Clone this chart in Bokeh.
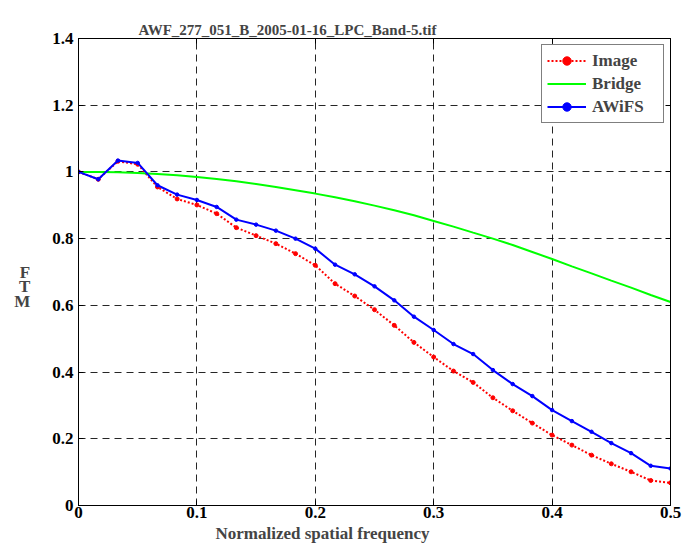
from bokeh.plotting import figure
from bokeh.models import (FixedTicker, LinearAxis, Legend, LegendItem, Range1d, Title)
from bokeh.embed import file_html
from bokeh.resources import INLINE

# ---- data ----
freq = [0.0, 0.0167, 0.0333, 0.05, 0.0667, 0.0833, 0.1, 0.1167, 0.1333, 0.15,
        0.1667, 0.1833, 0.2, 0.2167, 0.2333, 0.25, 0.2667, 0.2833, 0.3, 0.3167,
        0.3333, 0.35, 0.3667, 0.3833, 0.4, 0.4167, 0.4333, 0.45, 0.4667, 0.4833, 0.5]

image_mtf = [1.000, 0.978, 1.032, 1.023, 0.955, 0.919, 0.901, 0.875, 0.833, 0.809,
             0.785, 0.755, 0.720, 0.665, 0.628, 0.587, 0.540, 0.489, 0.445, 0.403,
             0.369, 0.323, 0.284, 0.247, 0.211, 0.181, 0.151, 0.125, 0.101, 0.075, 0.068]

bridge_mtf = [1.000, 1.000, 0.999, 0.997, 0.994, 0.990, 0.985, 0.979, 0.972, 0.964,
              0.955, 0.945, 0.935, 0.924, 0.912, 0.899, 0.885, 0.870, 0.853, 0.836,
              0.818, 0.800, 0.781, 0.760, 0.739, 0.717, 0.696, 0.674, 0.653, 0.631, 0.610]

awifs_mtf = [1.000, 0.978, 1.034, 1.027, 0.960, 0.932, 0.916, 0.895, 0.857, 0.842,
             0.824, 0.800, 0.770, 0.722, 0.693, 0.657, 0.615, 0.566, 0.526, 0.484,
             0.454, 0.406, 0.364, 0.328, 0.286, 0.253, 0.221, 0.187, 0.157, 0.119, 0.111]

x_ticks = [0, 0.1, 0.2, 0.3, 0.4, 0.5]
x_tick_labels = ["0", "0.1", "0.2", "0.3", "0.4", "0.5"]
y_ticks = [0, 0.2, 0.4, 0.6, 0.8, 1.0, 1.2, 1.4]
y_tick_labels = ["0", "0.2", "0.4", "0.6", "0.8", "1", "1.2", "1.4"]

title_text = "AWF_277_051_B_2005-01-16_LPC_Band-5.tif"
x_label = "Normalized spatial frequency"
y_label = "\n\nF\nT\nM"

FONT = "Liberation Serif"

p = figure(width=685, height=552, output_backend="svg", toolbar_location=None,
           x_range=Range1d(0, 0.5), y_range=Range1d(0, 1.4),
           min_border_left=78, min_border_right=15, min_border_top=38,
           min_border_bottom=47)

p.title.text = title_text
p.title.text_font = FONT
p.title.text_font_style = "bold"
p.title.text_font_size = "15px"
p.title.align = "left"
p.title.offset = 60
p.title.standoff = 2

p.outline_line_color = "black"
p.outline_line_width = 1

# grids
for g in (p.xgrid[0], p.ygrid[0]):
    g.grid_line_color = "black"
    g.grid_line_dash = "7 5"
    g.grid_line_width = 1
    g.grid_line_alpha = 0.85
p.xgrid[0].ticker = FixedTicker(ticks=x_ticks)
p.ygrid[0].ticker = FixedTicker(ticks=y_ticks)

def style_axis(ax, ticks, labels, show_labels=True):
    ax.ticker = FixedTicker(ticks=ticks)
    ax.minor_tick_line_color = None
    ax.major_tick_in = 5
    ax.major_tick_out = 0
    ax.axis_line_color = "black"
    ax.major_tick_line_color = "black"
    if show_labels:
        ax.major_label_overrides = {t: l for t, l in zip(ticks, labels)}
        ax.major_label_text_font = FONT
        ax.major_label_text_font_style = "bold"
        ax.major_label_text_font_size = "17px"
        ax.major_label_text_color = "black"
    else:
        ax.major_label_text_color = None
        ax.major_label_text_font_size = "1px"
        ax.major_label_standoff = 0

style_axis(p.xaxis[0], x_ticks, x_tick_labels)
p.xaxis[0].major_label_standoff = 1
style_axis(p.yaxis[0], y_ticks, y_tick_labels)
p.yaxis[0].major_label_standoff = 5

# y label: stacked letters, horizontal
p.yaxis[0].axis_label = y_label
p.yaxis[0].axis_label_orientation = "horizontal"
p.yaxis[0].axis_label_text_font = FONT
p.yaxis[0].axis_label_text_font_style = "bold"
p.yaxis[0].axis_label_text_font_size = "17px"
p.yaxis[0].axis_label_text_line_height = 0.78
p.yaxis[0].axis_label_standoff = 19

top_ax = LinearAxis()
style_axis(top_ax, x_ticks, x_tick_labels, show_labels=False)
p.add_layout(top_ax, "above")
right_ax = LinearAxis()
style_axis(right_ax, y_ticks, y_tick_labels, show_labels=False)
p.add_layout(right_ax, "right")

# x label as a below title (offset to match the reference position)
xl = Title(text=x_label, align="left", offset=137, text_font=FONT,
           text_font_style="bold", text_font_size="17px", standoff=3)
p.add_layout(xl, "below")

# lines
r_img_line = p.line(freq, image_mtf, line_color="#ff0000", line_width=2, line_dash="2 2")
r_img_pts = p.scatter(freq, image_mtf, size=4, color="#ff0000", marker="circle")
r_bridge = p.line(freq, bridge_mtf, line_color="#00ff00", line_width=2)
r_aw_line = p.line(freq, awifs_mtf, line_color="#0000ff", line_width=2)
r_aw_pts = p.scatter(freq, awifs_mtf, size=3.5, color="#0000ff", marker="circle")

legend = Legend(items=[
    LegendItem(label="Image", renderers=[r_img_line, r_img_pts]),
    LegendItem(label="Bridge", renderers=[r_bridge]),
    LegendItem(label="AWiFS", renderers=[r_aw_line, r_aw_pts]),
], location=(463, 382))
legend.border_line_color = "black"
legend.border_line_width = 1
legend.background_fill_color = "white"
legend.background_fill_alpha = 1
legend.label_text_font = FONT
legend.label_text_font_style = "bold"
legend.label_text_font_size = "17px"
legend.glyph_width = 39
legend.label_standoff = 6
legend.padding = 5
legend.spacing = 2
legend.label_height = 21
legend.glyph_height = 21
legend.label_width = 66
legend.margin = 0
p.add_layout(legend, "center")

open("out.html", "w").write(file_html(p, INLINE))
